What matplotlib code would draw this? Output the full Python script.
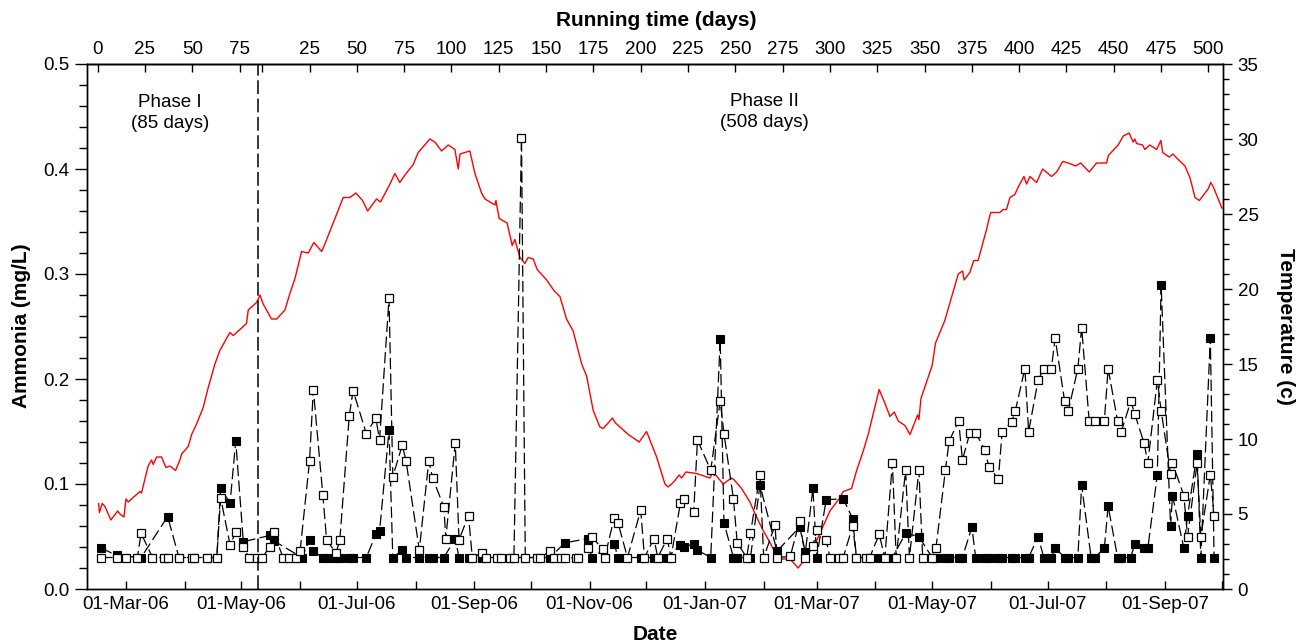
import datetime as dt
import matplotlib
matplotlib.use('Agg')
import matplotlib.pyplot as plt
import matplotlib.dates as mdates
from matplotlib.ticker import MultipleLocator, FormatStrFormatter

plt.rcParams['font.family'] = ['Liberation Sans', 'DejaVu Sans']

# running day 0 of phase I
start = dt.datetime(2006, 2, 14)
phase1_days = 85
phase2_start = 87

# ammonia, open squares
open_days = [2, 10, 15, 21, 23, 29, 35, 37, 43, 50, 51, 58, 63, 65, 70, 73, 77, 80, 84, 87,
             91, 93, 98, 101, 105, 107, 112, 114, 119, 121, 126, 128, 133, 135, 142, 147, 149,
             154, 156, 161, 163, 170, 175, 177, 183, 184, 189, 191, 196, 198, 203, 205, 211,
             213, 218, 220, 224, 226, 232, 234, 239, 241, 245, 247, 253, 254, 259, 261, 267,
             268, 273, 275, 280, 287, 289, 294, 296, 301, 303, 308, 310, 315, 317, 324, 329,
             331, 336, 338, 343, 345, 350, 352, 358, 359, 366, 371, 374, 378, 380, 385, 387,
             392, 394, 399, 401, 406, 408, 413, 416, 420, 422, 427, 429, 434, 436, 441, 443,
             448, 450, 455, 457, 461, 464, 469, 471, 476, 478, 483, 485, 490, 492, 497, 500,
             504, 506, 511, 513, 518, 520, 524, 527, 532, 534, 539, 541, 546, 548, 553, 555,
             560, 562, 567, 568, 574, 576, 581, 583, 588, 590]
open_vals = [.03, .03, .03, .03, .053, .03, .03, .03, .03, .03, .03, .03, .03, .087, .042, .054,
             .040, .03, .03, .03, .040, .054, .03, .03, .03, .036, .122, .190, .090, .047, .034,
             .047, .165, .189, .148, .163, .142, .277, .107, .137, .122, .037, .122, .106, .078,
             .048, .139, .047, .070, .03, .034, .03, .03, .03, .03, .03, .430, .03, .03, .03,
             .036, .03, .03, .03, .03, .03, .039, .050, .038, .03, .068, .063, .03, .075, .03,
             .048, .03, .048, .03, .082, .086, .073, .142, .113, .179, .148, .086, .044, .03,
             .053, .109, .03, .061, .03, .031, .065, .03, .041, .056, .047, .03, .03, .03, .060,
             .03, .03, .03, .052, .03, .120, .03, .113, .03, .113, .03, .03, .039, .113, .141,
             .160, .123, .149, .149, .132, .116, .105, .150, .159, .170, .210, .150, .199, .210,
             .210, .239, .179, .170, .210, .249, .160, .160, .160, .210, .160, .150, .179, .167,
             .139, .120, .199, .170, .110, .120, .089, .050, .120, .050, .109, .070]

# ammonia, filled squares
filled_days = [2, 10, 23, 37, 43, 58, 63, 65, 70, 73, 77, 91, 93, 108, 112, 114, 119, 122, 126,
               128, 133, 135, 142, 147, 149, 154, 156, 161, 163, 170, 175, 177, 183, 189, 191,
               196, 203, 226, 239, 247, 259, 261, 273, 275, 287, 294, 301, 308, 310, 315, 317,
               324, 329, 331, 336, 338, 345, 350, 359, 371, 374, 378, 380, 385, 394, 399, 401,
               413, 420, 427, 434, 441, 443, 448, 450, 455, 457, 462, 464, 469, 471, 476, 478,
               483, 485, 490, 492, 497, 500, 504, 506, 511, 513, 518, 520, 525, 527, 532, 534,
               539, 541, 546, 548, 553, 555, 560, 562, 567, 568, 574, 576, 581, 583, 588, 590]
filled_vals = [.039, .032, .03, .069, .03, .03, .03, .096, .082, .141, .045, .051, .046, .03,
               .047, .036, .03, .03, .03, .03, .03, .03, .03, .052, .055, .151, .03, .037, .03,
               .03, .03, .03, .03, .048, .03, .03, .03, .03, .03, .044, .048, .03, .043, .03,
               .03, .03, .03, .042, .040, .043, .037, .03, .238, .063, .03, .03, .03, .099, .036,
               .059, .035, .096, .03, .085, .086, .067, .03, .03, .03, .053, .050, .03, .03, .03,
               .03, .03, .03, .059, .03, .03, .03, .03, .03, .03, .03, .03, .03, .050, .03, .03,
               .039, .03, .03, .03, .099, .03, .03, .039, .079, .03, .03, .03, .043, .039, .039,
               .109, .290, .060, .089, .039, .070, .129, .03, .239, .03]

# temperature (c)
temp_days = [0.5, 1, 2.4, 3.9, 7, 10.6, 11.8, 13.9, 15, 16.2, 18.8, 22.4, 23.2, 26.7, 28.5,
             29.4, 31.2, 33.8, 36.1, 38.2, 41.2, 43.5, 44.4, 47.9, 49.7, 52.3, 55.8, 58.4, 62,
             64.6, 69.9, 71.7, 74.3, 78.7, 79.6, 84, 85.8, 87.5, 91.9, 94.6, 99, 101.6, 104.3,
             107.8, 111.3, 114.3, 118.4, 120.1, 125.4, 129.8, 133.3, 136.5, 140, 142.7, 147.4,
             149.5, 154.5, 157.1, 159.7, 162.4, 166.8, 169.4, 175.6, 178.2, 181.8, 185.3, 188.8,
             190.6, 191.5, 196.7, 199.4, 202.9, 204.7, 209.9, 210.5, 212.2, 216.4, 219.1, 220.5,
             223.2, 225.8, 227.5, 230.2, 232.3, 237.3, 241.1, 244.3, 247.8, 251.3, 255.8, 258.4,
             261.9, 265.4, 267.2, 272.1, 273.4, 280.4, 286.2, 290.1, 295.4, 299.8, 301.5, 304.2,
             307.3, 308.6, 310.9, 316.5, 323.5, 325.3, 330.6, 335, 336.2, 340.3, 344.7, 348.2,
             351.7, 355.3, 359.7, 365.9, 370.2, 373.8, 379.9, 387, 392.3, 394, 398.4, 401.1,
             404.6, 407.2, 413, 416, 418.7, 421, 423.1, 426.6, 429.3, 433.3, 434, 435.1, 441,
             442.8, 447.7, 449.5, 450.9, 454.8, 457.1, 457.9, 460.9, 463, 465.3, 469.8, 471.9,
             476.8, 478.5, 480.3, 482.1, 484.7, 486.5, 489.5, 490.9, 492.7, 496.2, 499.4, 504.1,
             506.8, 510, 512.9, 516.9, 519.5, 524, 527.9, 533.2, 534.1, 539.3, 542, 545.1,
             547.2, 548.1, 549, 552.2, 553.4, 556, 559.6, 561.9, 562.8, 566.3, 568.3, 570.5,
             574.6, 577.3, 579.9, 582.2, 587, 588.2, 589.6, 594.1]
temp_vals = [5.7, 5.1, 5.7, 5.5, 4.6, 5.2, 5.0, 4.8, 6.0, 5.8, 6.1, 6.5, 6.4, 8.2, 8.6, 8.3,
             8.8, 8.8, 8.1, 8.2, 7.9, 8.6, 9.0, 9.5, 10.3, 11.0, 12.1, 13.4, 15.0, 15.9, 17.1,
             16.9, 17.2, 17.7, 18.6, 19.1, 19.6, 19.0, 18.0, 18.0, 18.6, 19.7, 20.7, 22.5, 22.4,
             23.1, 22.5, 23.0, 24.7, 26.1, 26.1, 26.4, 25.9, 25.2, 26.0, 25.8, 27.0, 27.7, 27.1,
             27.6, 28.3, 29.1, 30.0, 29.8, 29.2, 29.6, 29.3, 28.0, 29.0, 29.2, 27.7, 26.4, 26.0,
             25.6, 25.9, 24.7, 24.4, 22.9, 23.3, 22.1, 21.7, 22.1, 22.0, 21.3, 20.6, 19.9, 19.5,
             18.0, 17.2, 15.0, 14.2, 11.9, 10.8, 10.7, 11.4, 11.1, 10.3, 9.8, 10.5, 8.8, 7.0,
             6.8, 7.1, 7.6, 7.4, 7.8, 7.7, 7.4, 7.8, 7.0, 7.4, 7.3, 6.7, 5.8, 4.8, 3.9, 3.1, 2.0,
             2.0, 1.4, 2.0, 3.2, 5.2, 6.1, 6.5, 6.7, 7.9, 9.2, 10.3, 13.3, 12.4, 11.5, 11.8, 11.2,
             10.9, 10.3, 11.6, 11.3, 12.7, 14.9, 16.4, 17.9, 18.7, 19.3, 21.0, 21.2, 20.6, 21.1,
             21.9, 21.9, 24.0, 25.1, 25.1, 25.3, 25.3, 26.1, 26.3, 26.8, 27.5, 27.0, 27.5, 27.1,
             28.0, 27.5, 27.8, 28.5, 28.4, 28.2, 28.4, 27.8, 28.4, 28.4, 28.9, 29.6, 30.2, 30.4,
             29.8, 30.0, 29.7, 29.6, 29.3, 29.6, 29.3, 29.9, 29.1, 28.8, 29.0, 28.7, 28.2, 27.4,
             26.1, 25.9, 26.7, 27.1, 26.8, 25.4]

phase1_ticks = [0, 25, 50, 75]
phase2_ticks = [0, 25, 50, 75, 100, 125, 150, 175, 200, 225, 250, 275, 300, 325, 350, 375,
                400, 425, 450, 475, 500]


def to_dates(days, offset=0):
    return [start + dt.timedelta(days=float(d) + offset) for d in days]


fig = plt.figure(figsize=(12.96, 6.42), dpi=100)
ax = fig.add_axes([87 / 1296, 1 - 589 / 642, 1136 / 1296, 525 / 642])
ax2 = ax.twinx()

ax2.plot(to_dates(temp_days), temp_vals, color='red', lw=1.0)

dash = (0, (9, 3.5))
ax.plot(to_dates(filled_days), filled_vals, color='black', lw=0.9, ls=dash,
        marker='s', ms=5.6, mfc='black', mec='black', mew=0.8)
ax.plot(to_dates(open_days), open_vals, color='black', lw=0.9, ls=dash,
        marker='s', ms=5.6, mfc='white', mec='black', mew=0.9)

# phase boundary
ax.axvline(start + dt.timedelta(days=phase1_days), color='black', lw=1.1, ls=(0, (9, 3)))

ax.set_zorder(ax2.get_zorder() + 1)
ax.patch.set_visible(False)

ax.set_xlim(start - dt.timedelta(days=5.6), start + dt.timedelta(days=594.7))
ax.set_ylim(0, 0.5)
ax2.set_ylim(0, 35)

ax.xaxis.set_major_locator(mdates.MonthLocator(bymonth=[1, 3, 5, 7, 9, 11]))
ax.xaxis.set_minor_locator(mdates.MonthLocator(bymonth=[2, 4, 6, 8, 10, 12]))
ax.xaxis.set_major_formatter(mdates.DateFormatter('%d-%b-%y'))
ax.tick_params(axis='x', which='both', direction='in', length=6, width=1, labelsize=13.5, pad=5)

ax.yaxis.set_major_locator(MultipleLocator(0.1))
ax.yaxis.set_minor_locator(MultipleLocator(0.02))
ax.yaxis.set_major_formatter(FormatStrFormatter('%.1f'))
ax.tick_params(axis='y', which='major', direction='out', length=8.5, width=1, labelsize=13.5, pad=4)
ax.tick_params(axis='y', which='minor', direction='out', length=5.5, width=1)

ax2.yaxis.set_major_locator(MultipleLocator(5))
ax2.yaxis.set_minor_locator(MultipleLocator(1))
ax2.tick_params(axis='y', which='major', direction='out', length=6.5, width=1, labelsize=13.5, pad=4)
ax2.tick_params(axis='y', which='minor', direction='out', length=4.5, width=1)

# running time on top
top_pos = [mdates.date2num(d) for d in to_dates(phase1_ticks) + to_dates(phase2_ticks, phase2_start)]
top_lab = [str(t) for t in phase1_ticks] + [''] + [str(t) for t in phase2_ticks[1:]]
secax = ax.secondary_xaxis('top')
secax.set_xticks(top_pos, labels=top_lab)
secax.tick_params(axis='x', direction='in', length=6, width=1, labelsize=13.5, pad=4)

for a in (ax, ax2):
    for s in a.spines.values():
        s.set_linewidth(1)
for s in secax.spines.values():
    s.set_linewidth(1)

ax.text(0.073, 0.906, 'Phase I\n(85 days)', transform=ax.transAxes, ha='center', va='center',
        fontsize=13.5, linespacing=1.3)
ax.text(0.596, 0.908, 'Phase II\n(508 days)', transform=ax.transAxes, ha='center', va='center',
        fontsize=13.5, linespacing=1.3)

fig.text(22 / 1296, 1 - 326 / 642, 'Ammonia (mg/L)', rotation=90, ha='center', va='center',
         fontsize=15, fontweight='bold')
fig.text(1285 / 1296, 1 - 326 / 642, 'Temperature (c)', rotation=270, ha='center', va='center',
         fontsize=15, fontweight='bold')
fig.text(655 / 1296, 1 - 634 / 642, 'Date', ha='center', va='center', fontsize=15, fontweight='bold')
fig.text(656 / 1296, 1 - 21 / 642, 'Running time (days)', ha='center', va='center',
         fontsize=15, fontweight='bold')

fig.savefig('out.png', dpi=100)
